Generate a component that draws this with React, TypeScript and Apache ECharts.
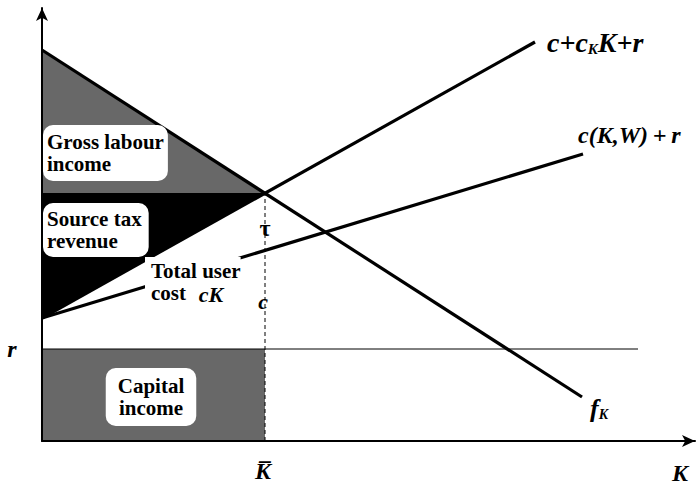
import React, { useEffect, useRef } from "react";
import * as echarts from "echarts";

// Curve end points (x = capital K, y = value)
const kBar = 2.23;
const rLevel = 0.92;
const crossY = 2.48;
const fK = [[0, 3.91], [5.4, 0.44]];
const marginalCost = [[0, 1.23], [4.93, 3.99]]; // c + c_K K + r
const avgCost = [[0, 1.23], [5.41, 2.87]]; // c(K,W) + r
const rLine = [[0, rLevel], [5.96, rLevel]];
const kBarLine = [[kBar, 0], [kBar, crossY]];

// Shaded regions
const grossLabour = [[0, 3.91], [kBar, crossY], [0, crossY]];
const sourceTax = [[0, crossY], [kBar, crossY], [0, 1.23]];
const capitalIncome = [[0, 0], [kBar, 0], [kBar, rLevel], [0, rLevel]];
const regions = [grossLabour, sourceTax, capitalIncome];
const regionColors = ["#686868", "#000000", "#686868"];

const X_MAX = 6.53;
const Y_MAX = 4.33;

const serif = "'Liberation Serif', 'Times New Roman', serif";
const TH = "\u2009";

export default function App() {
  const ref = useRef<HTMLDivElement>(null);
  useEffect(() => {
    const chart = echarts.init(ref.current!, null, { renderer: "svg" });
    const lineSeries = (data: number[][], width: number, type: any = "solid") => ({
      type: "line",
      data,
      symbol: "none",
      silent: true,
      lineStyle: { color: "#000", width, type },
      z: 3,
    });
    const boxLabel = {
      backgroundColor: "#fff",
      borderRadius: 10,
      fontFamily: serif,
      fontSize: 21,
      fontWeight: "bold",
      color: "#000",
      lineHeight: 22,
    };
    const plain = (extra: any) => ({
      fontFamily: serif,
      color: "#000",
      fontSize: 24,
      fontWeight: "bold",
      ...extra,
    });
    const sub = (size: number, pad: number) => ({ fontFamily: serif, fontStyle: "italic", fontWeight: "bold", fontSize: size, padding: [pad, 0, 0, 0] });
    const labels = [
      { value: [0.01, 2.88], label: { ...boxLabel, position: "right", distance: 0, padding: [6, 4, 6, 4], formatter: "Gross labour\nincome" } },
      { value: [0.01, 2.11], label: { ...boxLabel, position: "right", distance: 0, padding: [5, 7, 5, 4], formatter: "Source tax\nrevenue" } },
      { value: [1.03, 1.59], label: { ...boxLabel, borderRadius: 0, position: "right", distance: 0, padding: [3, 0, 3, 6], formatter: "Total user\ncost" } },
      { value: [1.69, 1.47], label: plain({ position: "inside", fontSize: 22, lineHeight: 18, fontStyle: "italic", formatter: "cK" }) },
      { value: [1.09, 0.44], label: { ...boxLabel, position: "inside", padding: [7, 12, 7, 12], formatter: "Capital\nincome" } },
      { value: [5.05, 3.99], label: plain({ position: "right", distance: 0, fontSize: 28, fontStyle: "italic", formatter: "c+c{s|K}K+r", rich: { s: sub(15, 14) } }) },
      { value: [5.36, 3.06], label: plain({ position: "right", distance: 0, fontStyle: "italic", formatter: `c(K,W)${TH}+${TH}r` }) },
      { value: [5.48, 0.33], label: plain({ position: "right", distance: 0, fontSize: 26, fontStyle: "italic", formatter: "f{s|K}", rich: { s: sub(14, 12) } }) },
      { value: [kBar, 2.13], label: plain({ position: "inside", formatter: "τ" }) },
      { value: [2.21, 1.4], label: plain({ position: "inside", fontSize: 22, fontStyle: "italic", formatter: "c" }) },
      { value: [2.21, -0.3], label: plain({ position: "inside", fontStyle: "italic", formatter: "K\u0305" }) },
      { value: [-0.3, 0.92], label: plain({ position: "inside", fontStyle: "italic", formatter: "r" }) },
      { value: [6.38, -0.32], label: plain({ position: "inside", fontStyle: "italic", formatter: "K" }) },
    ];
    chart.setOption({
      animation: false,
      grid: { left: 42, right: 1, top: 8, bottom: 44 },
      xAxis: {
        type: "value",
        min: 0,
        max: X_MAX,
        splitLine: { show: false },
        axisTick: { show: false },
        axisLabel: { show: false },
        axisLine: { lineStyle: { color: "#000", width: 2 }, symbol: ["none", "arrow"], symbolSize: [9, 13] },
        z: 10,
      },
      yAxis: {
        type: "value",
        min: 0,
        max: Y_MAX,
        splitLine: { show: false },
        axisTick: { show: false },
        axisLabel: { show: false },
        axisLine: { lineStyle: { color: "#000", width: 2 }, symbol: ["none", "arrow"], symbolSize: [9, 13] },
        z: 10,
      },
      series: [
        {
          type: "custom",
          data: regions.map((_, i) => [i, 0]),
          silent: true,
          z: 1,
          renderItem: (params: any, api: any) => {
            const poly = regions[params.dataIndex];
            return {
              type: "polygon",
              shape: { points: poly.map((p) => api.coord(p)) },
              style: { fill: regionColors[params.dataIndex] },
            };
          },
        },
        lineSeries(fK, 3.2),
        lineSeries(marginalCost, 3.2),
        lineSeries(avgCost, 3.2),
        lineSeries(rLine, 1),
        lineSeries(kBarLine, 1, [4, 3]),
        {
          type: "scatter",
          data: labels,
          symbolSize: 0,
          clip: false,
          silent: true,
          z: 5,
          itemStyle: { opacity: 1 },
          label: { show: true },
        },
      ],
    });
    return () => chart.dispose();
  }, []);
  return <div ref={ref} style={{ position: "fixed", left: 0, top: 0, width: 696, height: 485, background: "#fff" }} />;
}
